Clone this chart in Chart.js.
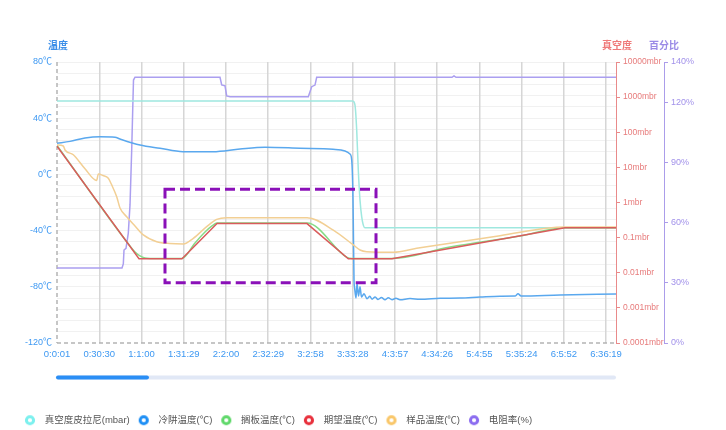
<!DOCTYPE html>
<html>
<head>
<meta charset="utf-8">
<script src="https://cdn.jsdelivr.net/npm/chart.js@4.4.1/dist/chart.umd.min.js"></script>
<style>
  html, body { margin: 0; padding: 0; background: #fff; }
  #wrap { width: 726px; height: 430px; }
</style>
</head>
<body>
<div id="wrap"><canvas id="chart" width="726" height="430"></canvas></div>
<script>
// axis ticks (x in seconds since start)
const xTicks = [1, 1830, 3660, 5489, 7320, 9149, 10978, 12808, 14637, 16466, 18295, 20124, 21952, 23779];
const vacTicks = [0.0001, 0.001, 0.01, 0.1, 1, 10, 100, 1000, 10000];
const pctTicks = [0, 30, 60, 90, 120, 140];

const seriesNames = ['真空度皮拉尼(mbar)', '冷阱温度(℃)', '搁板温度(℃)', '期望温度(℃)', '样品温度(℃)', '电阻率(%)'];

// vacuum (pirani), mbar
const vacTime = [0, 12776, 12820, 12906, 12980, 13049, 13123, 13197, 13266, 13340, 24210];
const vacVal  = [780, 780, 770, 596, 116, 8.4, 1.17, 0.39, 0.227, 0.19, 0.19];

// cold trap temperature
const trapTime = [0, 563, 1213, 1862, 2512, 2729, 3595, 4461, 5457, 6756, 7926, 9008, 10524, 11954, 12473, 12690, 12763, 12820, 12863,
  12885, 12950, 12993, 13058, 13123, 13188, 13296, 13426, 13550, 13643, 13780, 13903, 14050, 14206, 14350, 14509, 14680, 14855,
  15290, 15722, 16588, 17454, 18320, 19186, 19836, 19966, 20096, 21785, 24210];
const trapVal  = [22.1, 23.5, 25.9, 26.8, 26.5, 25.2, 20.9, 18.6, 16.2, 16.2, 18.1, 19.3, 18.6, 17.9, 16.7, 14.5, 10.3, -18, -75,
  -80, -88, -77.5, -86.5, -80, -87.3, -85, -88.5, -86.8, -88.8, -87.2, -89, -87.6, -89.2, -87.8, -89.2, -88.2, -89.2,
  -88.4, -88.9, -88.2, -88, -87.3, -86.7, -86.6, -85, -86.5, -85.8, -85.2];

// shelf temperature
const shelfTime = [0, 3162, 3378, 3595, 3811, 4028, 5414, 5977, 6410, 6713, 6930, 10828, 12560, 12776, 14509, 17021, 20053, 22001, 24210];
const shelfVal  = [20.6, -51, -55.2, -58, -59.5, -59.8, -59.8, -48.8, -41, -36.7, -34.6, -34.6, -59.1, -59.8, -59.8, -51.7, -43.8, -38, -38];

// expected temperature
const targetTime = [0, 3551, 5414, 6930, 10828, 12616, 14509, 22001, 24210];
const targetVal  = [20, -60, -60, -35, -35, -60, -60, -38, -38];

// sample temperature
const sampleTime = [0, 273, 346, 706, 1213, 1719, 1789, 1992, 2222, 2369, 2586, 2729, 3019, 3378, 3738, 4318, 4894, 5470, 5903, 6483,
  6917, 7350, 10828, 11966, 12833, 13123, 13413, 14565, 15578, 19186, 22001, 24210];
const sampleVal  = [20.9, 20.2, 17.4, 14, 4, -4.3, 0.3, -0.8, -2.8, -7.5, -15.9, -23.9, -30.1, -36.7, -43.1, -47.9, -49.2, -49.5, -45.5, -37.2,
  -32, -30.8, -30.8, -39.6, -50.2, -53.8, -55, -55.4, -52.6, -43.6, -37.4, -37.4];

// resistivity, %
const pctTime = [0, 2815, 2872, 2902, 2988, 3088, 3162, 3235, 3279, 3313, 3378, 7060, 7133, 7276, 7350, 7493, 10884, 11031, 11174, 11247,
  17108, 17194, 17281, 24210];
const pctVal  = [37.4, 37.4, 39.4, 46.3, 47.2, 54.7, 68.8, 96.2, 116.1, 131, 132.4, 132.4, 128.6, 128.1, 123.1, 122.7, 122.7, 127.7, 128.5, 132.4,
  132.4, 133.1, 132.4, 132.4];

// highlighted region (time range, temperature range)
const boxTime = [4677, 13816];
const boxTemp = [-10.5, -77.2];
const sliderEnd = 0.16;

const lineColors = ['#9fe8df', '#5aa8ee', '#86db86', '#d95c5c', '#f2cf94', '#ab9ff0'];
const iconColors = ['#7cf0ee', '#1e8ff5', '#5fd86a', '#e8303c', '#f9c76a', '#8b6cf0'];
const drawOrder = [4, 3, 2, 0, 1, 5];

const FONT = "'Liberation Sans', 'Noto Sans CJK SC', sans-serif";

function pts(t, v) { return t.map((x, i) => ({ x: x, y: v[i] })); }
function hms(s) {
  const h = Math.floor(s / 3600), m = Math.floor(s % 3600 / 60), sec = s % 60;
  return h + ':' + m + ':' + String(sec).padStart(2, '0');
}
function ring(color) {
  const c = document.createElement('canvas');
  c.width = 12; c.height = 12;
  const g = c.getContext('2d');
  g.beginPath(); g.arc(6, 6, 3.6, 0, Math.PI * 2);
  g.fillStyle = '#fff'; g.fill();
  g.lineWidth = 3; g.strokeStyle = color; g.stroke();
  return c;
}

const decor = {
  id: 'decor',
  beforeDatasetsDraw(chart) {
    // dashed left and bottom axis lines
    const { ctx, chartArea: a } = chart;
    ctx.save();
    ctx.strokeStyle = '#b4b4b4';
    ctx.lineWidth = 1.5;
    ctx.setLineDash([4, 3]);
    ctx.beginPath();
    ctx.moveTo(a.left, a.top); ctx.lineTo(a.left, a.bottom);
    ctx.moveTo(a.left, a.bottom); ctx.lineTo(a.right, a.bottom);
    ctx.stroke();
    ctx.restore();
  },
  afterDatasetsDraw(chart) {
    const { ctx, scales } = chart;
    const x0 = scales.x.getPixelForValue(boxTime[0]), x1 = scales.x.getPixelForValue(boxTime[1]);
    const y0 = scales.yTemp.getPixelForValue(boxTemp[0]), y1 = scales.yTemp.getPixelForValue(boxTemp[1]);
    ctx.save();
    ctx.strokeStyle = '#8a10b8';
    ctx.lineWidth = 3;
    ctx.setLineDash([10, 5]);
    ctx.strokeRect(x0, y0, x1 - x0, y1 - y0);
    ctx.restore();
  },
  afterDraw(chart) {
    const { ctx, chartArea, scales } = chart;
    ctx.save();
    ctx.font = 'bold 10px ' + FONT;
    ctx.textAlign = 'center';
    ctx.textBaseline = 'middle';
    const ty = chartArea.top - 16;
    ctx.fillStyle = '#3d8fe8'; ctx.fillText('温度', scales.yTemp.right + 1, ty);
    ctx.fillStyle = '#ef7a7a'; ctx.fillText('真空度', scales.yVac.left + 1, ty);
    ctx.fillStyle = '#9a8ae6'; ctx.fillText('百分比', scales.yPct.left, ty);

    // zoom slider
    const sy = chartArea.bottom + 34.5;
    const sx0 = chartArea.left + 1, sx1 = chartArea.right - 2;
    ctx.lineCap = 'round';
    ctx.lineWidth = 4;
    ctx.strokeStyle = '#e1e8f6';
    ctx.beginPath(); ctx.moveTo(sx0, sy); ctx.lineTo(sx1, sy); ctx.stroke();
    ctx.strokeStyle = '#2a8ef5';
    ctx.beginPath(); ctx.moveTo(sx0, sy); ctx.lineTo(sx0 + (sx1 - sx0) * sliderEnd, sy); ctx.stroke();
    ctx.restore();
  }
};

const seriesData = [
  { t: vacTime, v: vacVal, axis: 'yVac', smooth: true },
  { t: trapTime, v: trapVal, axis: 'yTemp', smooth: true },
  { t: shelfTime, v: shelfVal, axis: 'yTemp', smooth: true },
  { t: targetTime, v: targetVal, axis: 'yTemp', smooth: false },
  { t: sampleTime, v: sampleVal, axis: 'yTemp', smooth: true },
  { t: pctTime, v: pctVal, axis: 'yPct', smooth: false }
];

new Chart(document.getElementById('chart'), {
  type: 'line',
  data: {
    datasets: seriesData.map((s, i) => ({
      label: seriesNames[i],
      data: pts(s.t, s.v),
      yAxisID: s.axis,
      order: drawOrder[i],
      borderColor: lineColors[i],
      backgroundColor: lineColors[i],
      borderWidth: 1.5,
      pointRadius: 0,
      fill: false,
      cubicInterpolationMode: s.smooth ? 'monotone' : 'default',
      tension: 0
    }))
  },
  options: {
    responsive: false,
    animation: false,
    layout: { padding: { left: 16, right: 22, top: 62, bottom: 0 } },
    plugins: {
      tooltip: { enabled: false },
      legend: {
        position: 'bottom',
        align: 'start',
        maxHeight: 18.5,
        labels: {
          usePointStyle: true,
          pointStyleWidth: 20,
          padding: 4,
          color: '#555',
          font: { size: 9.5, family: FONT },
          generateLabels: chart => chart.data.datasets.map((d, i) => ({
            text: d.label,
            pointStyle: ring(iconColors[i]),
            fillStyle: '#fff',
            strokeStyle: iconColors[i],
            lineWidth: 0,
            hidden: false,
            datasetIndex: i,
            fontColor: '#555'
          }))
        }
      }
    },
    scales: {
      x: {
        type: 'linear',
        min: 0,
        max: 24210,
        afterBuildTicks: s => { s.ticks = xTicks.map(v => ({ value: v })); },
        afterFit: s => { s.height = 68.5; },
        ticks: { color: '#3d98f2', font: { size: 9.5, family: FONT }, padding: 6, maxRotation: 0, autoSkip: false, callback: v => hms(v) },
        grid: { z: -1, color: c => c.index === 0 ? 'rgba(0,0,0,0)' : '#d6d6d6', lineWidth: 1.5, drawTicks: false },
        border: { display: false }
      },
      yTemp: {
        type: 'linear',
        position: 'left',
        min: -120,
        max: 80,
        afterFit: s => { s.width = 41; },
        ticks: { stepSize: 8, autoSkip: false, color: '#3d98f2', font: { size: 9, family: FONT }, padding: 5,
          callback: v => v % 40 === 0 ? v + '℃' : '' },
        grid: { z: -2, color: c => c.index === 0 ? 'rgba(0,0,0,0)' : '#f1f1f1', drawTicks: false },
        border: { display: false }
      },
      yVac: {
        type: 'logarithmic',
        position: 'right',
        weight: 0,
        min: 0.0001,
        max: 10000,
        afterBuildTicks: s => { s.ticks = vacTicks.map(v => ({ value: v })); },
        afterFit: s => { s.width = 48; },
        ticks: { autoSkip: false, color: '#e77b7b', font: { size: 8.5, family: FONT }, padding: 3, callback: v => v + 'mbr' },
        grid: { drawOnChartArea: false, drawTicks: true, tickLength: 4, color: '#e98a8a' },
        border: { color: '#e98a8a' }
      },
      yPct: {
        type: 'linear',
        position: 'right',
        weight: 1,
        min: 0,
        max: 140,
        afterBuildTicks: s => { s.ticks = pctTicks.map(v => ({ value: v })); },
        afterFit: s => { s.width = 40; },
        ticks: { autoSkip: false, color: '#a292ea', font: { size: 9, family: FONT }, padding: 3, callback: v => v + '%' },
        grid: { drawOnChartArea: false, drawTicks: true, tickLength: 4, color: '#ab9dea' },
        border: { color: '#ab9dea' }
      }
    }
  },
  plugins: [decor]
});
</script>
</body>
</html>
